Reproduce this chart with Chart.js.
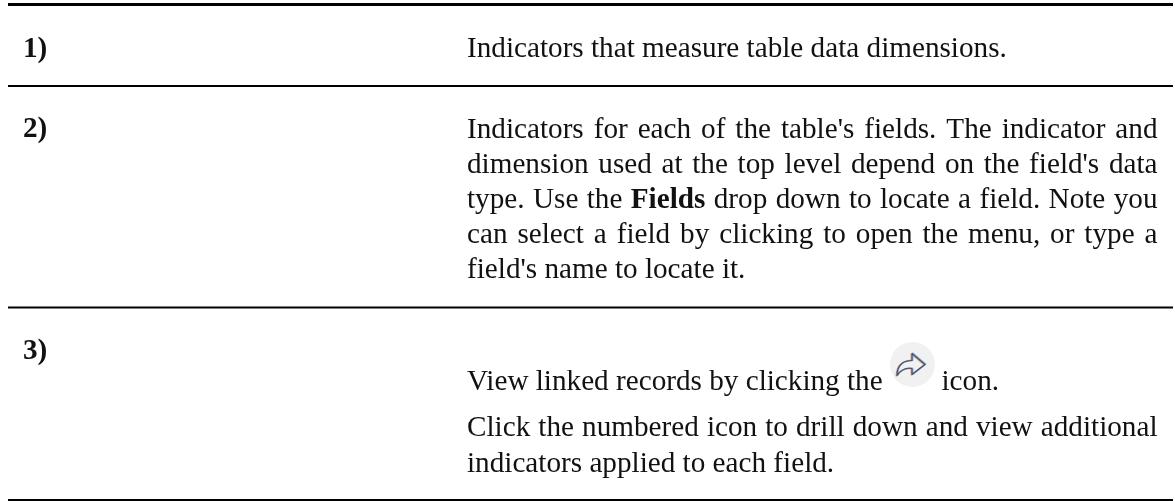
<!DOCTYPE html>
<html>
<head>
<meta charset="utf-8">
<title>Indicators table</title>
<script src="https://cdn.jsdelivr.net/npm/chart.js@4/dist/chart.umd.min.js"></script>
<style>
    html, body { margin: 0; padding: 0; background: #fff; }
    canvas { display: block; }
</style>
</head>
<body>
<canvas id="tableChart" width="1175" height="501"></canvas>
<script>
// rows of the table
const rowLabels = ['1)', '2)', '3)'];
const rowOne = ['Indicators that measure table data dimensions.'];
const rowTwo = [
    'Indicators for each of the table\'s fields. The indicator and',
    'dimension used at the top level depend on the field\'s data',
    'type. Use the |Fields| drop down to locate a field. Note you',
    'can select a field by clicking to open the menu, or type a',
    'field\'s name to locate it.'
];
const rowThreeIcon = ['View linked records by clicking the', 'icon.'];
const rowThree = [
    'Click the numbered icon to drill down and view additional',
    'indicators applied to each field.'
];

// horizontal rules on a 0-501 scale
const ruleLevels = [4.5, 86, 307.5, 500];
const ruleWeights = [3, 2, 2, 2];
const ruleExtent = [8, 1173];

const FONT_SIZE = 29.2;
const SERIF = '"Liberation Serif", serif';
const LABEL_X = 23;
const TEXT_X = 467;
const TEXT_RIGHT = 1157.5;

function drawLine(ctx, line, x, y, justify) {
    const parts = line.split('|');
    const setFont = i => {
        ctx.font = `${i % 2 ? 'bold ' : ''}${FONT_SIZE}px ${SERIF}`;
    };
    ctx.wordSpacing = '0px';
    let natural = 0;
    parts.forEach((part, i) => {
        setFont(i);
        natural += ctx.measureText(part).width;
    });
    const gaps = line.split(' ').length - 1;
    const extra = justify ? (TEXT_RIGHT - x - natural) / gaps : 0;
    ctx.wordSpacing = extra + 'px';
    let penX = x;
    parts.forEach((part, i) => {
        setFont(i);
        ctx.fillText(part, penX, y);
        penX += ctx.measureText(part).width;
    });
    ctx.wordSpacing = '0px';
}

function arrowPath(ctx) {
    ctx.beginPath();
    ctx.moveTo(-14, 11);
    ctx.bezierCurveTo(-14, -1, -6, -4, 1, -4);
    ctx.lineTo(1, -11);
    ctx.lineTo(14, 0);
    ctx.lineTo(1, 10);
    ctx.lineTo(1, 4);
    ctx.bezierCurveTo(-5, 3, -10, 5, -14, 11);
    ctx.closePath();
}

// share arrow inside a pale round button
function drawIcon(ctx, cx, cy) {
    ctx.save();
    ctx.fillStyle = '#f1f1f1';
    ctx.beginPath();
    ctx.arc(cx, cy, 22.5, 0, Math.PI * 2);
    ctx.fill();
    ctx.translate(cx - 1.5, cy);
    ctx.lineWidth = 1.6;
    ctx.lineJoin = 'round';
    // colour fringes left by the screenshot
    ctx.strokeStyle = 'rgba(214,140,90,0.7)';
    ctx.translate(-0.7, 0.3);
    arrowPath(ctx);
    ctx.stroke();
    ctx.strokeStyle = 'rgba(90,160,230,0.7)';
    ctx.translate(1.4, -0.6);
    arrowPath(ctx);
    ctx.stroke();
    ctx.strokeStyle = '#4a4f68';
    ctx.lineWidth = 1.2;
    ctx.translate(-0.7, 0.3);
    arrowPath(ctx);
    ctx.stroke();
    ctx.restore();
}

const tableTextPlugin = {
    id: 'tableText',
    afterDatasetsDraw(chart) {
        const { ctx, scales: { x, y } } = chart;
        ctx.save();
        ctx.fillStyle = '#111';
        ctx.textBaseline = 'alphabetic';

        const labelBaselines = [57, 137, 359];
        rowLabels.forEach((label, i) => {
            ctx.font = `bold ${FONT_SIZE}px ${SERIF}`;
            ctx.fillText(label, x.getPixelForValue(LABEL_X), y.getPixelForValue(labelBaselines[i]));
        });

        const textX = x.getPixelForValue(TEXT_X);
        drawLine(ctx, rowOne[0], textX, y.getPixelForValue(57), false);

        rowTwo.forEach((line, i) => {
            const justify = i < rowTwo.length - 1;
            drawLine(ctx, line, textX, y.getPixelForValue(138 + i * 35), justify);
        });

        drawLine(ctx, rowThreeIcon[0], textX, y.getPixelForValue(390), false);
        drawIcon(ctx, x.getPixelForValue(912.5), y.getPixelForValue(364.5));
        drawLine(ctx, rowThreeIcon[1], x.getPixelForValue(941.5), y.getPixelForValue(390), false);

        drawLine(ctx, rowThree[0], textX, y.getPixelForValue(436), true);
        drawLine(ctx, rowThree[1], textX, y.getPixelForValue(472), false);
        ctx.restore();
    }
};

new Chart(document.getElementById('tableChart'), {
    type: 'scatter',
    data: {
        datasets: ruleLevels.map((level, i) => ({
            data: ruleExtent.map(px => ({ x: px, y: level })),
            showLine: true,
            borderColor: '#000',
            borderWidth: ruleWeights[i],
            pointRadius: 0
        }))
    },
    options: {
        responsive: false,
        animation: false,
        layout: { padding: 0 },
        plugins: { legend: { display: false }, tooltip: { enabled: false }, title: { display: false } },
        scales: {
            x: { type: 'linear', display: false, min: 0, max: 1175 },
            y: { type: 'linear', display: false, min: 0, max: 501, reverse: true }
        }
    },
    plugins: [tableTextPlugin]
});
</script>
</body>
</html>
